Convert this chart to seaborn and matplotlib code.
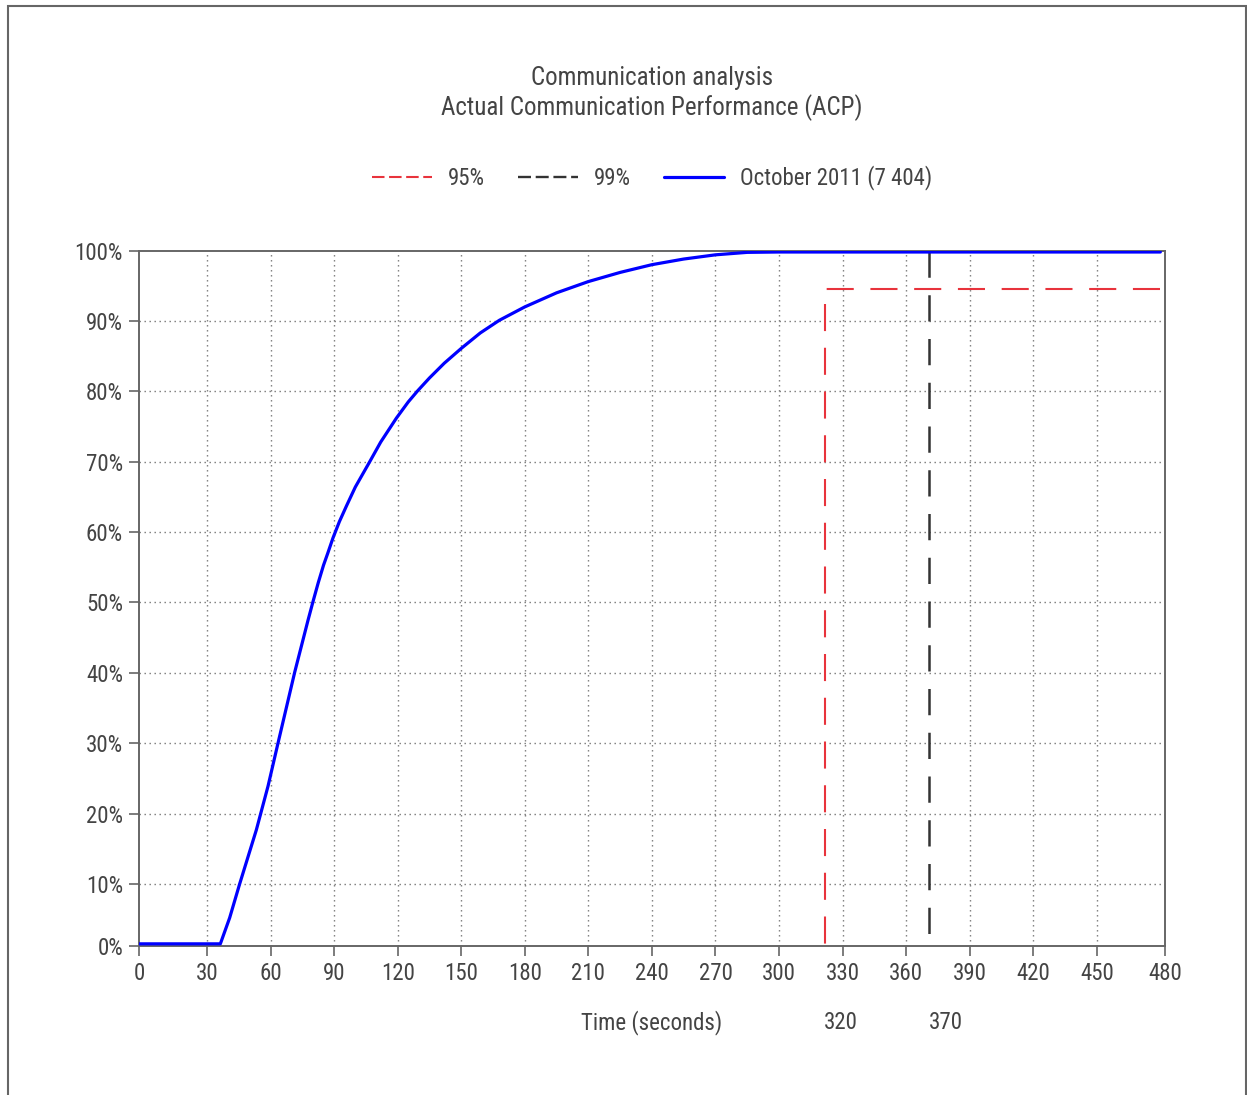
import numpy as np
import pandas as pd
import matplotlib
matplotlib.use("Agg")
import matplotlib.pyplot as plt
from matplotlib.lines import Line2D
from matplotlib.patches import Rectangle
import seaborn as sns

# cumulative share of calls answered vs time
times = [0, 36.3, 40.7, 45.4, 53.3, 58.8, 63.5, 71.4, 77.7, 80.1, 82.5, 85,
         87, 89.5, 92.5, 95.8, 100, 106.8, 112, 119.4, 125, 129.5, 135, 142,
         150, 159, 168, 180, 195, 210, 225, 240, 255, 270, 285, 300, 480]
share = [1.5, 1.5, 5.2, 10.0, 17.7, 23.9, 30.0, 40.1, 47.5, 50.2, 52.8, 55.3,
         57.0, 59.2, 61.5, 63.7, 66.4, 70.0, 72.8, 76.2, 78.5, 80.1, 81.9, 84.0,
         86.1, 88.3, 90.1, 92.0, 94.0, 95.6, 96.9, 98.0, 98.8, 99.4, 99.75, 99.8, 99.8]

p95_time, p95_level, p95_label = 321.6, 94.5, "320"
p99_time, p99_label = 371.0, "370"

x_ticks = list(range(30, 451, 30))
y_ticks = list(range(10, 101, 10))
X_LO, X_HI = -2.1, 482.2
Y_LO, Y_HI = 1.25, 100

TXT = "#444444"
GRID = "#777777"
RED = "#e8333c"
DARK = "#333333"
BLUE = "#0000ff"

sns.set_theme(style="white")
plt.rcParams["font.family"] = ["Roboto Condensed", "Roboto", "DejaVu Sans"]

fig = plt.figure(figsize=(12.47, 10.95), dpi=100)
ax = fig.add_axes([139 / 1247, 1 - 945.6 / 1095, (1165 - 139) / 1247, (945.6 - 250.6) / 1095])

df = pd.DataFrame({"t": [X_LO] + times, "v": [share[0]] + share})
sns.lineplot(data=df, x="t", y="v", ax=ax, color=BLUE, lw=2.3, sort=False,
             estimator=None, zorder=5)

# percentile markers, drawn from the right end / top so the dashes line up
ax.plot([480, p95_time, p95_time], [p95_level, p95_level, Y_LO], color=RED,
        lw=1.5, dashes=(13, 8), zorder=4)
ax.plot([p99_time, p99_time], [Y_HI, Y_LO], color=DARK, lw=1.8,
        dashes=(10.5, 7), zorder=4)

ax.set_xlim(X_LO, X_HI)
ax.set_ylim(Y_LO, Y_HI)
ax.set_xticks([X_LO] + x_ticks + [X_HI])
ax.set_xticklabels(["0"] + [str(v) for v in x_ticks] + ["480"])
ax.set_yticks([Y_LO] + y_ticks)
ax.set_yticklabels(["0%"] + [f"{v}%" for v in y_ticks])

for v in x_ticks:
    ax.axvline(v, color=GRID, lw=1.0, dashes=(1, 2.6), zorder=1)
for v in y_ticks[:-1]:
    ax.axhline(v, color=GRID, lw=1.0, dashes=(1, 2.6), zorder=1)

for s in ax.spines.values():
    s.set_color("#666666")
    s.set_linewidth(1.4)
ax.tick_params(axis="both", direction="out", length=7.5, width=1.2,
               color="#666666", labelcolor=TXT, labelsize=16.5, pad=4,
               left=True, bottom=True)
ax.set_xlabel("")
ax.set_ylabel("")

ax.text(240, -0.111, "Time (seconds)", transform=ax.get_xaxis_transform(),
        ha="center", va="center", fontsize=16.5, color=TXT)
for t, lab in [(p95_time, p95_label), (p99_time, p99_label)]:
    ax.annotate(lab, xy=(t, -0.111), xycoords=ax.get_xaxis_transform(),
                xytext=(11.5, 0), textcoords="offset points",
                ha="center", va="center", fontsize=16.5, color=TXT)

fig.text(652 / 1247, 1 - 93.5 / 1095,
         "Communication analysis\nActual Communication Performance (ACP)",
         ha="center", va="center", fontsize=18, color=TXT, linespacing=1.2)

handles = [
    Line2D([], [], color=RED, lw=1.5, dashes=(6, 2.2)),
    Line2D([], [], color=DARK, lw=1.7, dashes=(5.5, 2)),
    Line2D([], [], color=BLUE, lw=2.3),
]
fig.legend(handles, ["95%", "99%", "October 2011 (7 404)"], loc="center",
           bbox_to_anchor=(652 / 1247, 1 - 178 / 1095), ncol=3, frameon=False,
           fontsize=16.5, handlelength=2.6, handletextpad=0.7,
           columnspacing=1.45, labelcolor=TXT)

fig.add_artist(Rectangle((7.5 / 1247, -0.05), (1245.5 - 7.5) / 1247,
                         1.05 - 5.5 / 1095, transform=fig.transFigure,
                         fill=False, edgecolor="#666666", lw=1.5))

fig.savefig("out.png", dpi=100)
